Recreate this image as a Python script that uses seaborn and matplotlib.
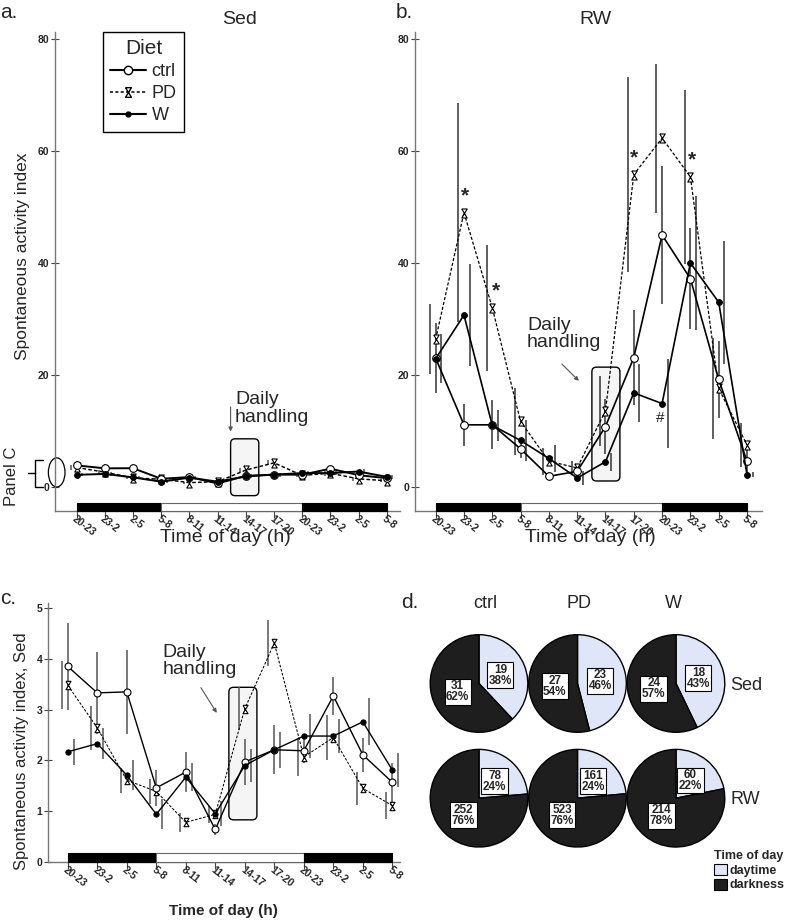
import numpy as np
import matplotlib
matplotlib.use('Agg')
import matplotlib.pyplot as plt
import seaborn as sns
from matplotlib.patches import FancyBboxPatch, Ellipse, Patch
from matplotlib.lines import Line2D

# ---- data ----
times = ['20-23', '23-2', '2-5', '5-8', '8-11', '11-14', '14-17', '17-20',
         '20-23', '23-2', '2-5', '5-8']
# light phase of each 3 h interval between the ticks
phase = ['dark', 'dark', 'dark', 'light', 'light', 'light', 'light', 'light',
         'dark', 'dark', 'dark']
diets = ['ctrl', 'PD', 'W']

# sedentary mice (panels a and c)
sed_ctrl = [3.85, 3.33, 3.35, 1.46, 1.77, 0.64, 1.97, 2.21, 2.19, 3.27, 2.11, 1.57]
sed_ctrl_err = [0.85, 0.80, 0.83, 0.36, 0.40, 0.10, 0.46, 0.48, 0.25, 0.38, 0.33, 0.38]
sed_pd = [3.48, 2.64, 1.61, 1.39, 0.78, 0.94, 3.02, 4.31, 2.07, 2.45, 1.45, 1.11]
sed_pd_err = [0.47, 0.43, 0.25, 0.25, 0.19, 0.17, 0.42, 0.46, 0.37, 0.44, 0.33, 0.26]
sed_w = [2.17, 2.33, 1.71, 0.94, 1.67, 0.95, 1.90, 2.21, 2.48, 2.48, 2.76, 1.81]
sed_w_err = [0.26, 0.30, 0.30, 0.30, 0.28, 0.25, 0.33, 0.35, 0.44, 0.33, 0.46, 0.34]

# running wheel mice (panel b)
rw_ctrl = [23.0, 11.1, 11.1, 6.8, 1.9, 2.8, 10.8, 23.1, 45.0, 37.2, 19.2, 4.6]
rw_ctrl_err = [6.3, 3.8, 4.4, 1.7, 0.6, 0.8, 5.0, 8.5, 12.4, 9.0, 6.8, 2.7]
rw_pd = [26.4, 49.0, 32.0, 11.7, 4.6, 3.4, 13.6, 55.8, 62.3, 55.4, 17.6, 7.5]
rw_pd_err = [6.3, 19.5, 11.3, 6.0, 2.4, 1.3, 6.2, 17.4, 13.3, 15.5, 9.0, 3.9]
rw_w = [22.9, 30.7, 11.0, 8.3, 5.1, 1.6, 4.5, 16.8, 14.9, 40.0, 33.0, 2.2]
rw_w_err = [4.4, 9.1, 2.8, 3.6, 2.4, 1.2, 1.6, 5.2, 8.0, 11.9, 11.0, 0.5]

# pie counts (panel d)
sed_day = [19, 23, 18]
sed_dark = [31, 27, 24]
rw_day = [78, 161, 60]
rw_dark = [252, 523, 214]

# ---- style ----
sns.set_style('ticks')
plt.rcParams['font.family'] = ['Liberation Sans', 'DejaVu Sans']
narrow = ['Liberation Sans Narrow', 'Liberation Sans', 'DejaVu Sans']

W, H = 789, 924
fig = plt.figure(figsize=(W / 100, H / 100), dpi=100)


def px_axes(l, t, r, b):
    return fig.add_axes([l / W, 1 - b / H, (r - l) / W, (b - t) / H])


hourglass = [(-0.6, 1), (0.6, 1), (-0.6, -1), (0.6, -1), (-0.6, 1)]


def draw_series(ax, ctrl, ctrl_e, pdv, pd_e, w, w_e, lw, err_color, ms):
    x = np.arange(len(times))
    for vals, errs, dx in [(pdv, pd_e, -0.2), (ctrl, ctrl_e, 0.0), (w, w_e, 0.2)]:
        vals = np.array(vals)
        errs = np.array(errs)
        ax.vlines(x + dx, vals - errs, vals + errs, color=err_color, lw=1.1, zorder=2)
    sns.lineplot(x=x, y=pdv, ax=ax, color='black', lw=lw * 0.75, linestyle=(0, (2.5, 1.5)),
                 marker=hourglass, markersize=ms + 1, markerfacecolor='white',
                 markeredgecolor='black', markeredgewidth=0.8, zorder=3)
    sns.lineplot(x=x, y=ctrl, ax=ax, color='black', lw=lw, marker='o', markersize=ms,
                 markerfacecolor='white', markeredgecolor='black', markeredgewidth=0.8, zorder=4)
    sns.lineplot(x=x, y=w, ax=ax, color='black', lw=lw, marker='o', markersize=ms * 0.75,
                 markerfacecolor='black', markeredgecolor='black', zorder=4)


def day_bar(ax, frac):
    # merge consecutive intervals of the same phase
    segs = []
    for i, p in enumerate(phase):
        if segs and segs[-1][0] == p:
            segs[-1][2] += 1
        else:
            segs.append([p, i, 1])
    xt = ax.get_xaxis_transform()
    for p, start, n in segs:
        fc = 'black' if p == 'dark' else 'white'
        ec = 'black' if p == 'dark' else '#666666'
        ax.broken_barh([(start, n)], (0, frac), transform=xt, facecolor=fc,
                       edgecolor=ec, lw=0.8, zorder=5, clip_on=False)


def style_axis(ax, xlim, ylim, yticks):
    ax.set_xlim(*xlim)
    ax.set_ylim(*ylim)
    ax.set_xticks(range(len(times)))
    ax.set_xticklabels(times, rotation=-38, ha='left', va='top', rotation_mode='anchor',
                       fontsize=7.5, fontweight='bold', family=narrow)
    ax.set_yticks(yticks)
    ax.set_yticklabels([str(t) for t in yticks], fontsize=7.5, fontweight='bold')
    ax.tick_params(axis='x', direction='out', length=5, width=0.8, pad=-3, color='#444444')
    ax.tick_params(axis='y', direction='inout', length=6, width=0.8, pad=1, color='#444444')
    ax.set_xlabel('')
    ax.set_ylabel('')
    sns.despine(ax=ax)
    for s in ['left', 'bottom']:
        ax.spines[s].set_color('#777777')
        ax.spines[s].set_linewidth(1.0)


def handling_box(ax, x0, x1, y0, y1):
    bb = ax.get_position()
    xr = ax.get_xlim()
    yr = ax.get_ylim()
    asp = ((yr[1] - yr[0]) / (bb.height * H)) / ((xr[1] - xr[0]) / (bb.width * W))
    ax.add_patch(FancyBboxPatch((x0, y0), x1 - x0, y1 - y0,
                                boxstyle='round,pad=0,rounding_size=0.16',
                                mutation_aspect=asp, facecolor='#f5f5f5',
                                edgecolor='black', lw=1.0, zorder=1))


# ---- panel a ----
ax_a = px_axes(55, 32, 400, 511)
draw_series(ax_a, sed_ctrl, sed_ctrl_err, sed_pd, sed_pd_err, sed_w, sed_w_err,
            lw=1.4, err_color='#555555', ms=5.5)
style_axis(ax_a, (-0.77, 11.47), (-4.29, 81.25), [0, 20, 40, 60, 80])
day_bar(ax_a, 8 / 479)
handling_box(ax_a, 5.46, 6.46, -1.55, 8.6)
ax_a.annotate('', xy=(5.46, 9.4), xytext=(5.46, 14.8),
              arrowprops=dict(arrowstyle='-|>', color='#555555', lw=0.8, mutation_scale=6))
ax_a.text(5.62, 14.0, 'Daily\nhandling', fontsize=14, ha='left', va='center', linespacing=1.05)

# "Panel C" marker
ax_a.add_patch(Ellipse((-0.71, 2.6), 0.59, 5.2, fill=False, edgecolor='black', lw=0.9,
                       clip_on=False))
ax_a.plot([-1.195, -1.479, -1.479, -1.195], [4.82, 4.82, 0.0, 0.0], color='black', lw=1.0,
          clip_on=False)
ax_a.plot([-1.727, -1.479], [2.5, 2.5], color='black', lw=1.0, clip_on=False)

handles = [
    Line2D([], [], color='black', lw=1.5, marker='o', ms=6, mfc='white', mec='black'),
    Line2D([], [], color='black', lw=1.1, ls=(0, (2, 1.5)), marker=hourglass, ms=7,
           mfc='white', mec='black'),
    Line2D([], [], color='black', lw=1.5, marker='o', ms=3.5, mfc='black', mec='black'),
]
leg = ax_a.legend(handles, diets, title='Diet', loc='upper left',
                  bbox_to_anchor=(0.139, 1.0), fontsize=13, title_fontsize=15,
                  frameon=True, fancybox=False, edgecolor='black', framealpha=1,
                  handlelength=2.0, handletextpad=0.3, labelspacing=0.28, borderpad=0.4,
                  borderaxespad=0)
leg.get_frame().set_linewidth(1.0)

# ---- panel b ----
ax_b = px_axes(415, 32, 762, 511)
draw_series(ax_b, rw_ctrl, rw_ctrl_err, rw_pd, rw_pd_err, rw_w, rw_w_err,
            lw=1.2, err_color='#333333', ms=5.5)
style_axis(ax_b, (-0.73, 11.53), (-4.29, 81.25), [0, 20, 40, 60, 80])
day_bar(ax_b, 8 / 479)
handling_box(ax_b, 5.52, 6.51, 1.07, 21.4)
ax_b.annotate('', xy=(5.13, 18.6), xytext=(4.39, 22.3),
              arrowprops=dict(arrowstyle='-|>', color='#555555', lw=0.8, mutation_scale=6))
ax_b.text(3.23, 27.3, 'Daily\nhandling', fontsize=14, ha='left', va='center', linespacing=1.05)
# significance marks next to PD / W points
for i, dx in [(1, 0.04), (2, 0.13), (7, 0.0), (9, 0.06)]:
    ax_b.text(i + dx, rw_pd[i] + 3.0, '*', fontsize=15, fontweight='bold',
              ha='center', va='center')
ax_b.text(7.93, rw_w[8] - 2.6, '#', fontsize=11, ha='center', va='center')

# ---- panel c ----
ax_c = px_axes(48, 603, 400, 862)
draw_series(ax_c, sed_ctrl, sed_ctrl_err, sed_pd, sed_pd_err, sed_w, sed_w_err,
            lw=1.0, err_color='#555555', ms=5.0)
style_axis(ax_c, (-0.67, 11.26), (0, 5.1), [0, 1, 2, 3, 4, 5])
day_bar(ax_c, 9.3 / 259)
handling_box(ax_c, 5.46, 6.41, 0.83, 3.44)
ax_c.annotate('', xy=(5.1, 2.89), xytext=(4.46, 3.48),
              arrowprops=dict(arrowstyle='-|>', color='#555555', lw=0.8, mutation_scale=6))
ax_c.text(3.2, 3.96, 'Daily\nhandling', fontsize=14, ha='left', va='center', linespacing=1.05)

# ---- panel d: pies ----
col_x = [479, 577.5, 676]
row_y = [683.5, 798.2]
r = 49.3
for ri, (day, dark) in enumerate([(sed_day, sed_dark), (rw_day, rw_dark)]):
    for ci in range(3):
        cx, cy = col_x[ci], row_y[ri]
        ax = px_axes(cx - r, cy - r, cx + r, cy + r)
        counts = [day[ci], dark[ci]]
        tot = sum(counts)
        labels = [f'{c}\n{round(100 * c / tot)}%' for c in counts]
        wedges, texts = ax.pie(counts, colors=['#dfe6f7', '#1e1e1e'], startangle=90,
                               counterclock=False, radius=1, labels=labels,
                               labeldistance=0.47,
                               wedgeprops=dict(edgecolor='black', linewidth=1.0))
        for t in texts:
            t.set_ha('center')
            t.set_va('center')
            t.set_fontsize(8.5)
            t.set_fontweight('bold')
            t.set_family(narrow)
            t.set_linespacing(0.9)
            t.set_bbox(dict(boxstyle='square,pad=0.12', facecolor='white',
                            edgecolor='black', lw=0.8))
        ax.set_xlim(-1.01, 1.01)
        ax.set_ylim(-1.01, 1.01)
        ax.axis('off')

for ci, name in enumerate(diets):
    fig.text([485, 579, 673][ci] / W, 1 - 603 / H, name, fontsize=13, ha='center', va='center')
fig.text(730 / W, 1 - 685 / H, 'Sed', fontsize=13, ha='left', va='center')
fig.text(730 / W, 1 - 800 / H, 'RW', fontsize=13, ha='left', va='center')

fig.legend(handles=[Patch(facecolor='#dfe6f7', edgecolor='black', lw=0.8),
                    Patch(facecolor='#1e1e1e', edgecolor='black', lw=0.8)],
           labels=['daytime', 'darkness'], title='Time of day', loc='upper left',
           bbox_to_anchor=(714 / W, 1 - 850 / H), frameon=False, alignment='left',
           prop=dict(size=9, weight='bold', family=narrow),
           title_fontproperties=dict(size=9, weight='bold'),
           handlelength=1.0, handleheight=1.0, handletextpad=0.25, labelspacing=0.15,
           borderpad=0, borderaxespad=0)

# ---- figure texts ----
fig.text(0 / W, 1 - 13 / H, 'a.', fontsize=15, ha='left', va='center')
fig.text(396 / W, 1 - 13 / H, 'b.', fontsize=15, ha='left', va='center')
fig.text(0 / W, 1 - 599 / H, 'c.', fontsize=15, ha='left', va='center')
fig.text(401 / W, 1 - 602 / H, 'd.', fontsize=15, ha='left', va='center')
fig.text(240 / W, 1 - 20 / H, 'Sed', fontsize=14, ha='center', va='center')
fig.text(595 / W, 1 - 20 / H, 'RW', fontsize=14, ha='center', va='center')
fig.text(23 / W, 1 - 256 / H, 'Spontaneous activity index', fontsize=12.5, rotation=90,
         ha='center', va='center')
fig.text(12 / W, 1 - 476 / H, 'Panel C', fontsize=12, rotation=90, ha='center', va='center')
fig.text(225 / W, 1 - 538 / H, 'Time of day (h)', fontsize=14, ha='center', va='center')
fig.text(590 / W, 1 - 538 / H, 'Time of day (h)', fontsize=14, ha='center', va='center')
fig.text(22 / W, 1 - 751 / H, 'Spontaneous activity index, Sed', fontsize=12, rotation=90,
         ha='center', va='center')
fig.text(223 / W, 1 - 911 / H, 'Time of day (h)', fontsize=11, fontweight='bold',
         ha='center', va='center')

fig.savefig('out.png', dpi=100, facecolor='white')
